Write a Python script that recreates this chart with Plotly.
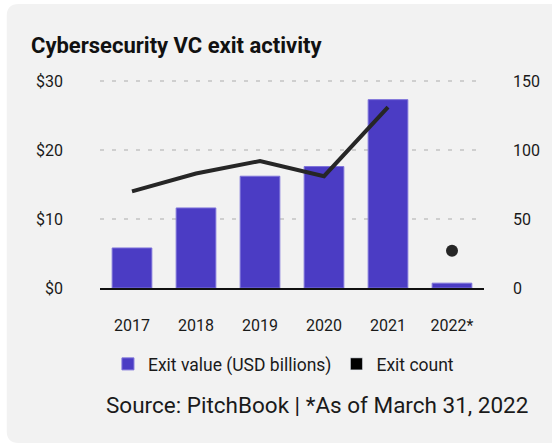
import plotly.graph_objects as go

years = ["2017", "2018", "2019", "2020", "2021", "2022*"]
exit_value = [5.8, 11.6, 16.2, 17.6, 27.3, 0.7]
exit_count = [70, 83, 92, 81, 131, 27]
left_ticks = [0, 10, 20, 30]
left_labels = ["$0", "$10", "$20", "$30"]
right_ticks = [0, 50, 100, 150]

W, H = 552, 443
L, R, T, B = 100, 487, 72, 288
YTOP = 30 * (B - T) / 207.0
Y2TOP = 150 * (B - T) / 207.0

def px(x):
    return (x - L) / (R - L)

def py(y):
    return (B - y) / (B - T)

FONT = "Roboto"
BAR = "#4b3cc4"
LINE = "#262626"
CARD = "#f2f2f2"
GRID = "#cfcfcf"

fig = go.Figure()
fig.add_trace(go.Bar(
    x=years, y=exit_value, name="Exit value (USD billions)",
    marker=dict(color=BAR, line=dict(color="#7d72da", width=1)),
    width=0.62, yaxis="y", showlegend=True,
))
fig.add_trace(go.Scatter(
    x=years[:5], y=exit_count[:5], mode="lines", yaxis="y2",
    line=dict(color=LINE, width=4), showlegend=False,
))
fig.add_trace(go.Scatter(
    x=years[5:], y=exit_count[5:], mode="markers", yaxis="y2",
    marker=dict(color=LINE, size=12), showlegend=False,
))
fig.add_trace(go.Bar(
    x=[years[0]], y=[None], name="Exit count",
    marker=dict(color="#000000"), yaxis="y", showlegend=True,
))

# dashed gridlines at the left-axis ticks (drawn under the bars)
for v in left_ticks[1:]:
    fig.add_shape(type="line", xref="x domain", yref="y", x0=0, x1=1, y0=v, y1=v,
                  line=dict(color=GRID, width=2, dash="4px,8px"), layer="below")

# white page strips around the rounded card (card = paper background)
r = 12
cx0, cy0 = 6, 4
def P(x, y):
    return f"{px(x)},{py(y)}"
left_strip = (f"M {P(-5,-5)} L {P(600,-5)} L {P(600,cy0)} L {P(cx0+r,cy0)} "
              f"Q {P(cx0,cy0)} {P(cx0,cy0+r)} L {P(cx0,H-r)} Q {P(cx0,H)} {P(cx0+r,H)} "
              f"L {P(cx0+r,H+5)} L {P(-5,H+5)} Z")
fig.add_shape(type="path", path=left_strip, xref="paper", yref="paper",
              fillcolor="#ffffff", line=dict(width=0), layer="above")

fig.add_annotation(text="<b>Cybersecurity VC exit activity</b>", x=px(28), y=py(45),
                   xref="paper", yref="paper", xanchor="left", yanchor="middle",
                   showarrow=False, font=dict(family=FONT, size=22, color="#111111"))
fig.add_annotation(text="Source: PitchBook | *As of March 31, 2022", x=px(533), y=py(405),
                   xref="paper", yref="paper", xanchor="right", yanchor="middle",
                   showarrow=False, font=dict(family=FONT, size=22.5, color="#1a1a1a"))

fig.update_layout(
    width=W, height=H,
    margin=dict(l=L, r=W - R, t=T, b=H - B, pad=0),
    paper_bgcolor=CARD, plot_bgcolor=CARD,
    barmode="overlay",
    font=dict(family=FONT, size=16, color="#1a1a1a"),
    xaxis=dict(showline=True, linecolor="#111111", linewidth=2, showgrid=False,
               ticks="", ticklabelstandoff=22, tickfont=dict(size=16, color="#1a1a1a")),
    yaxis=dict(range=[0, YTOP], tickvals=left_ticks, ticktext=left_labels,
               showgrid=True, gridcolor=GRID, gridwidth=2, griddash="4px,8px",
               zeroline=False, ticks="", ticklabelstandoff=36,
               tickfont=dict(size=16, color="#1a1a1a")),
    yaxis2=dict(range=[0, Y2TOP], tickvals=right_ticks, overlaying="y", side="right",
                showgrid=False, zeroline=False, ticks="", ticklabelstandoff=28,
                tickfont=dict(size=16, color="#1a1a1a")),
    legend=dict(orientation="h", x=px(108), y=py(364), xanchor="left", yanchor="middle",
                bgcolor="rgba(0,0,0,0)", font=dict(size=17.5, color="#1a1a1a"),
                traceorder="normal"),
)

fig.write_html("out.html")
